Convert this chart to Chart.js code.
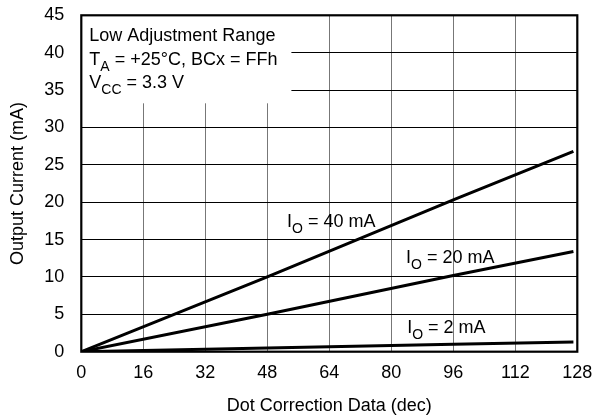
<!DOCTYPE html>
<html>
<head>
<meta charset="utf-8">
<script src="https://cdn.jsdelivr.net/npm/chart.js@4.4.0/dist/chart.umd.min.js"></script>
<style>
  html, body { margin: 0; padding: 0; background: #fff; }
</style>
</head>
<body>
<canvas id="chart" width="592" height="417"></canvas>
<script>
// values
var dotData = [0, 48, 96, 127];
var current40 = [0, 10.0, 20.3, 26.8];
var current20 = [0, 5.0, 10.2, 13.4];
var current2 = [0, 0.5, 1.0, 1.3];
var xTicks = [0, 16, 32, 48, 64, 80, 96, 112, 128];
var yTicks = [0, 5, 10, 15, 20, 25, 30, 35, 40, 45];

var FONT = '"Liberation Sans", Arial, Helvetica, sans-serif';

// text bits: t = text, sub = subscript
var boxLines = [
    [{t: "Low Adjustment Range"}],
    [{t: "T"}, {t: "A", sub: true}, {t: " = +25\u00B0C, BCx = FFh"}],
    [{t: "V"}, {t: "CC", sub: true}, {t: " = 3.3 V"}]
];
var lineLabels = [
    {x: 53.1, y: 16.7, parts: [{t: "I"}, {t: "O", sub: true}, {t: " = 40 mA"}]},
    {x: 83.8, y: 11.8, parts: [{t: "I"}, {t: "O", sub: true}, {t: " = 20 mA"}]},
    {x: 84.1, y: 2.5, parts: [{t: "I"}, {t: "O", sub: true}, {t: " = 2 mA"}]}
];

function pts(ys) {
    return dotData.map(function (x, i) { return {x: x, y: ys[i]}; });
}

function richWidth(ctx, parts) {
    var w = 0;
    parts.forEach(function (p) {
        ctx.font = (p.sub ? 14 : 18) + "px " + FONT;
        w += ctx.measureText(p.t).width;
    });
    return w;
}

function drawRich(ctx, parts, x, y) {
    ctx.textBaseline = "alphabetic";
    ctx.textAlign = "left";
    ctx.fillStyle = "#000";
    parts.forEach(function (p) {
        ctx.font = (p.sub ? 14 : 18) + "px " + FONT;
        ctx.fillText(p.t, x, p.sub ? y + 6 : y);
        x += ctx.measureText(p.t).width;
    });
}

var notesPlugin = {
    id: "notes",
    beforeDatasetsDraw: function (chart) {
        var ctx = chart.ctx, a = chart.chartArea;
        var w = 0;
        boxLines.forEach(function (l) { w = Math.max(w, richWidth(ctx, l)); });
        ctx.save();
        ctx.fillStyle = "#fff";
        ctx.fillRect(a.left, a.top, w + 22, 88);
        ctx.restore();
    },
    afterDatasetsDraw: function (chart) {
        var ctx = chart.ctx, a = chart.chartArea;
        var sx = chart.scales.x, sy = chart.scales.y;
        ctx.save();
        ctx.strokeStyle = "#000";
        ctx.lineWidth = 2.2;
        ctx.strokeRect(a.left, a.top, a.right - a.left, a.bottom - a.top);
        boxLines.forEach(function (l, i) {
            drawRich(ctx, l, a.left + 8, a.top + 26 + i * 23.3);
        });
        lineLabels.forEach(function (l) {
            drawRich(ctx, l.parts, sx.getPixelForValue(l.x), sy.getPixelForValue(l.y));
        });
        ctx.restore();
    }
};

function series(ys) {
    return {
        data: pts(ys),
        showLine: true,
        borderColor: "#000",
        borderWidth: 3,
        pointRadius: 0,
        fill: false
    };
}

new Chart(document.getElementById("chart"), {
    type: "scatter",
    data: {
        datasets: [series(current40), series(current20), series(current2)]
    },
    options: {
        responsive: false,
        animation: false,
        layout: {
            padding: {left: 0, right: 14.7, top: 15.3, bottom: 0}
        },
        plugins: {
            legend: {display: false},
            tooltip: {enabled: false}
        },
        scales: {
            x: {
                type: "linear",
                min: 0,
                max: 128,
                afterBuildTicks: function (s) {
                    s.ticks = xTicks.map(function (v) { return {value: v}; });
                },
                afterFit: function (s) {
                    s.height = 65.3;
                    s.paddingLeft = 0;
                    s.paddingRight = 0;
                },
                grid: {color: "#777", lineWidth: 1, drawTicks: false},
                border: {display: false},
                ticks: {
                    color: "#000",
                    padding: 11,
                    maxRotation: 0,
                    font: {family: FONT, size: 18}
                },
                title: {
                    display: true,
                    text: "Dot Correction Data (dec)",
                    color: "#000",
                    padding: {top: 0, bottom: 0},
                    font: {family: FONT, size: 18}
                }
            },
            y: {
                type: "linear",
                min: 0,
                max: 45,
                afterBuildTicks: function (s) {
                    s.ticks = yTicks.map(function (v) { return {value: v}; });
                },
                afterFit: function (s) {
                    s.width = 81.3;
                    s.paddingTop = 0;
                    s.paddingBottom = 0;
                },
                grid: {color: "#000", lineWidth: 1, drawTicks: false},
                border: {display: false},
                ticks: {
                    color: "#000",
                    padding: 17,
                    font: {family: FONT, size: 18}
                },
                title: {
                    display: true,
                    text: "Output Current (mA)",
                    color: "#000",
                    padding: {top: 7, bottom: 0},
                    font: {family: FONT, size: 18}
                }
            }
        }
    },
    plugins: [notesPlugin]
});
</script>
</body>
</html>
